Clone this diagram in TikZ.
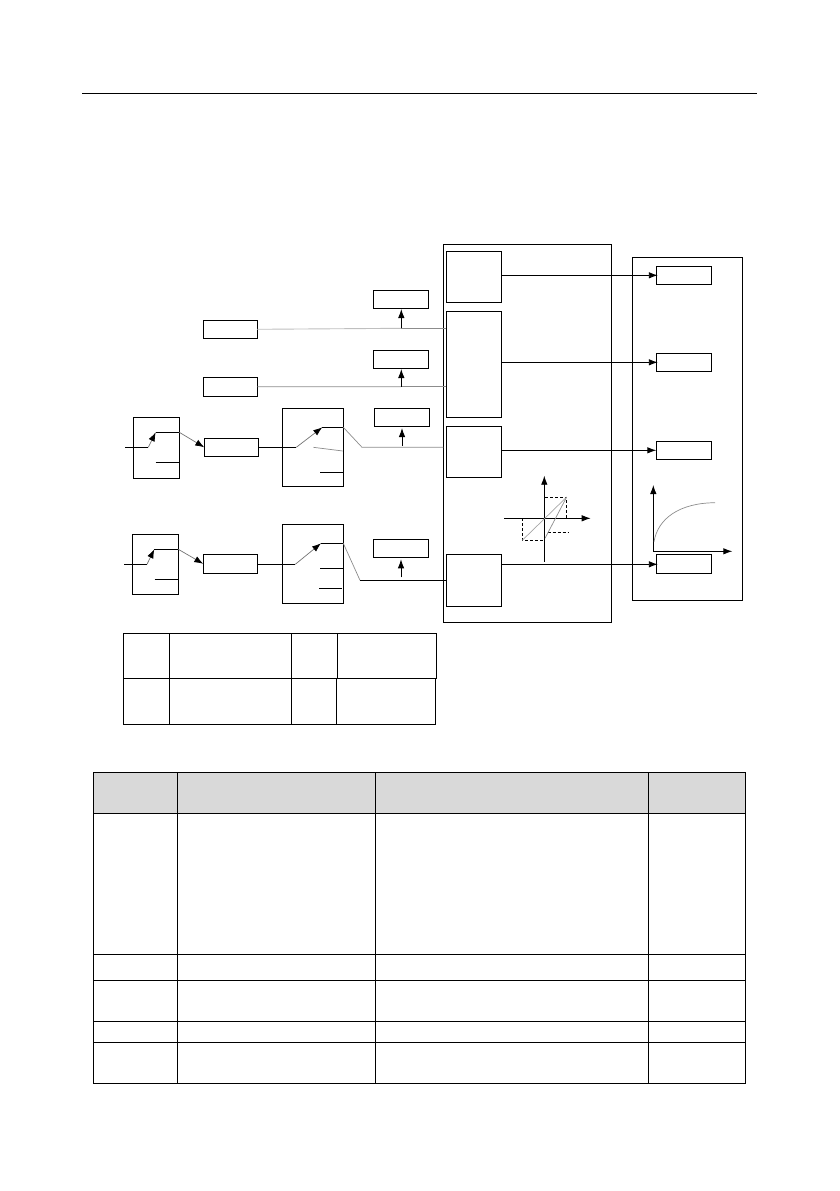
\documentclass[tikz,border=0pt]{standalone}
\usetikzlibrary{arrows.meta}

\begin{document}
\begin{tikzpicture}[
  x=1pt, y=-1pt,
  box/.style={
    draw=black,
    line width=0.9pt,
    inner sep=0pt,
    outer sep=0pt,
    anchor=north west
  },
  tag/.style={box, minimum width=55pt, minimum height=18pt},
  inputtag/.style={tag, minimum width=54pt},
  block/.style={box, minimum width=55pt},
  chooser/.style={box, minimum width=46pt, minimum height=60pt},
  switch/.style={box, minimum width=61pt, minimum height=78pt},
  cell/.style={box},
  headcell/.style={cell, fill=black!15},
  wire/.style={line width=0.9pt, draw=black},
  faint/.style={line width=0.7pt, draw=black!45},
  pale/.style={line width=0.9pt, draw=black!25},
  hatch/.style={line width=0.7pt, draw=black, densely dashed},
  arrow/.style={-{Latex[length=9pt,width=6.5pt]}, line width=0.9pt, draw=black},
  grayarrow/.style={-{Latex[length=9pt,width=6.5pt,black]}, line width=0.7pt, draw=black!55}
]
\useasboundingbox (0,0) rectangle (839,1191);

\coordinate (ruleleft) at (82,93.5);
\coordinate (ruleright) at (757,93.5);
\draw[wire, line width=1.1pt] (ruleleft) -- (ruleright);

% left column
\node[inputtag] (src1) at (203.3,320.3) {};
\node[inputtag, minimum height=19pt] (src2) at (203.3,377.3) {};
\node[chooser, minimum height=61pt] (sel1) at (133.3,417.3) {};
\node[chooser] (sel2) at (132.3,534.3) {};
\node[inputtag] (ref1) at (204.3,438.3) {};
\node[inputtag, minimum height=19pt] (ref2) at (203.3,554.3) {};
\node[switch] (sw1) at (282.3,408.3) {};
\node[switch, minimum height=79pt] (sw2) at (282.3,524.3) {};

% monitor boxes
\node[tag] (mon1) at (373.3,290.3) {};
\node[tag] (mon2) at (373.3,350.3) {};
\node[tag] (mon3) at (374.3,408.3) {};
\node[tag] (mon4) at (373.3,539.3) {};

% regulators
\node[box, minimum width=168.4pt, minimum height=378pt] (regpanel) at (443.3,244.3) {};
\node[block, minimum height=51pt] (rega) at (446.3,251.3) {};
\node[block, minimum height=106pt] (regb) at (446.3,311.3) {};
\node[block, minimum height=51pt] (regc) at (446.3,426.3) {};
\node[block, minimum height=52pt] (regd) at (446.3,554.3) {};

% outputs
\node[box, minimum width=110pt, minimum height=343pt] (outpanel) at (632.3,257.3) {};
\node[tag] (out1) at (656.3,266.3) {};
\node[tag] (out2) at (656.3,353.3) {};
\node[tag] (out3) at (656.3,441.3) {};
\node[tag, minimum height=19pt] (out4) at (656.3,554.3) {};

\coordinate (rowa) at (0,275.3);
\coordinate (rowb) at (0,362.3);
\coordinate (rowc) at (0,450.3);
\coordinate (rowd) at (0,564.3);
\draw[arrow, shorten >=-1.5pt] (rega.east |- rowa) -- (out1.west |- rowa);
\draw[arrow, shorten >=-1.5pt] (regb.east |- rowb) -- (out2.west |- rowb);
\draw[arrow] (regc.east |- rowc) -- (out3.west |- rowc);
\draw[arrow, shorten >=-1.5pt] (regd.east |- rowd) -- (out4.west |- rowd);

% first chooser
\coordinate (in1) at (125,447.3);
\coordinate (pivot1) at (148.3,447.3);
\coordinate (hit1) at (155.7,432.3);
\coordinate (low1) at (155.7,462.3);
\draw[wire] (in1) -- (pivot1);
\draw[grayarrow] (pivot1) -- (hit1);
\draw[wire] (hit1) -- (sel1.east |- hit1);
\draw[wire] (low1) -- (sel1.east |- low1);
\draw[grayarrow] (sel1.east |- hit1) -- (ref1.west);

% second chooser
\coordinate (in2) at (124,564.3);
\coordinate (pivot2) at (147,564.3);
\coordinate (hit2) at (154.3,549.3);
\coordinate (low2) at (154.7,579.3);
\draw[wire] (in2) -- (pivot2);
\draw[grayarrow] (pivot2) -- (hit2);
\draw[wire] (hit2) -- (sel2.east |- hit2);
\draw[wire] (low2) -- (sel2.east |- low2);
\draw[grayarrow] (sel2.east |- hit2) -- (ref2.west);

% first switch
\coordinate (pivot3) at (296.3,447.3);
\coordinate (hit3) at (322.3,427.3);
\coordinate (midl3) at (313.3,447.3);
\coordinate (midr3) at (342.7,451);
\coordinate (low3) at (320,472.3);
\coordinate (bend3) at (362,447.3);
\draw[wire] (ref1.east) -- (pivot3);
\draw[grayarrow] (pivot3) -- (hit3);
\draw[wire] (hit3) -- (sw1.east |- hit3);
\draw[faint] (midl3) -- (midr3);
\draw[wire] (low3) -- (sw1.east |- low3);
\draw[faint] (sw1.east |- hit3) -- (bend3) -- (bend3 -| regpanel.west);

% second switch
\coordinate (pivot4) at (295.3,564.3);
\coordinate (hit4) at (321,543.3);
\coordinate (low4) at (320,568.3);
\coordinate (low5) at (319,588.3);
\coordinate (low5end) at (342,588.3);
\coordinate (bend4) at (360,580.3);
\draw[wire] (ref2.east |- pivot4) -- (pivot4);
\draw[grayarrow] (pivot4) -- (hit4);
\draw[wire] (hit4) -- (sw2.east |- hit4);
\draw[wire] (low4) -- (sw2.east |- low4);
\draw[wire] (low5) -- (low5end);
\draw[faint] (sw2.east |- hit4) -- (bend4);
\draw[wire] (bend4) -- (bend4 -| regd.west);

% lines to the regulators
\coordinate (tap1) at (401.3,328.3);
\coordinate (tap2) at (401.3,386.7);
\coordinate (tap3) at (402,446);
\coordinate (tap4) at (401,577.3);
\draw[pale] (src1.east) -- (tap1);
\draw[faint] (tap1) -- (tap1 -| regb.west);
\draw[faint] (src2.east) -- (tap2);
\draw[faint] (tap2) -- (tap2 -| regb.west);
\draw[arrow, shorten >=0.7pt] (tap1) -- (mon1.south -| tap1);
\draw[arrow, shorten >=0.7pt] (tap2) -- (mon2.south -| tap2);
\draw[arrow, shorten >=1.7pt] (tap3) -- (mon3.south -| tap3);
\draw[arrow, shorten >=2pt] (tap4) -- (mon4.south -| tap4);

% hysteresis plot
\coordinate (hysb) at (544.3,561.7);
\coordinate (hyst) at (544.3,475.7);
\coordinate (hysl) at (504,518.3);
\coordinate (hysr) at (590.7,518.3);
\coordinate (hysa) at (522.3,540.3);
\coordinate (hysc) at (566.7,497);
\coordinate (hyse) at (545,538.3);
\draw[arrow] (hysb) -- (hyst);
\draw[arrow] (hysl) -- (hysr);
\draw[hatch] (hysa |- hysl) -- (hysa) -- (543.3,540.3);
\draw[hatch] (545,497) -- (hysc) -- (hysc |- hysl);
\draw[hatch] (547.7,532.3) -- (568,532.3);
\draw[faint, draw=black!35] (hysa) -- (hysc);
\draw[faint] (hyse) -- (hysc);

% curve plot
\coordinate (curveo) at (653.3,551.3);
\coordinate (curvet) at (653.3,485);
\coordinate (curver) at (732.3,551.3);
\coordinate (curvea) at (654,541.7);
\coordinate (curvez) at (715,502.7);
\draw[arrow] (curveo) -- (curvet);
\draw[arrow] (curveo) -- (curver);
\draw[faint] (curvea) .. controls (658,518) and (680,503) .. (curvez);

% small table
\node[cell, minimum width=46pt, minimum height=44.6pt] (key11) at (123.3,633.7) {};
\node[cell, minimum width=122.1pt, minimum height=44.6pt] (key12) at (169.3,633.7) {};
\node[cell, minimum width=46pt, minimum height=44.6pt] (key13) at (291.4,633.7) {};
\node[cell, minimum width=98.8pt, minimum height=44.6pt] (key14) at (337.4,633.7) {};
\node[cell, minimum width=46pt, minimum height=46pt] (key21) at (123.3,678.3) {};
\node[cell, minimum width=122.1pt, minimum height=46pt] (key22) at (169.3,678.3) {};
\node[cell, minimum width=44.6pt, minimum height=46pt] (key23) at (291.4,678.3) {};
\node[cell, minimum width=99.3pt, minimum height=46pt] (key24) at (336,678.3) {};

% parameter table
\node[headcell, minimum width=84.1pt, minimum height=40.6pt] (par11) at (93.4,772.7) {};
\node[headcell, minimum width=197.5pt, minimum height=40.6pt] (par12) at (177.5,772.7) {};
\node[headcell, minimum width=273.5pt, minimum height=40.6pt] (par13) at (375,772.7) {};
\node[headcell, minimum width=96.5pt, minimum height=40.6pt] (par14) at (648.5,772.7) {};
\node[cell, minimum width=84.1pt, minimum height=141pt] (par21) at (93.4,813.3) {};
\node[cell, minimum width=197.5pt, minimum height=141pt] (par22) at (177.5,813.3) {};
\node[cell, minimum width=273.5pt, minimum height=141pt] (par23) at (375,813.3) {};
\node[cell, minimum width=96.5pt, minimum height=141pt] (par24) at (648.5,813.3) {};
\node[cell, minimum width=84.1pt, minimum height=26pt] (par31) at (93.4,954.3) {};
\node[cell, minimum width=197.5pt, minimum height=26pt] (par32) at (177.5,954.3) {};
\node[cell, minimum width=273.5pt, minimum height=26pt] (par33) at (375,954.3) {};
\node[cell, minimum width=96.5pt, minimum height=26pt] (par34) at (648.5,954.3) {};
\node[cell, minimum width=84.1pt, minimum height=41pt] (par41) at (93.4,980.3) {};
\node[cell, minimum width=197.5pt, minimum height=41pt] (par42) at (177.5,980.3) {};
\node[cell, minimum width=273.5pt, minimum height=41pt] (par43) at (375,980.3) {};
\node[cell, minimum width=96.5pt, minimum height=41pt] (par44) at (648.5,980.3) {};
\node[cell, minimum width=84.1pt, minimum height=21pt] (par51) at (93.4,1021.3) {};
\node[cell, minimum width=197.5pt, minimum height=21pt] (par52) at (177.5,1021.3) {};
\node[cell, minimum width=273.5pt, minimum height=21pt] (par53) at (375,1021.3) {};
\node[cell, minimum width=96.5pt, minimum height=21pt] (par54) at (648.5,1021.3) {};
\node[cell, minimum width=84.1pt, minimum height=41pt] (par61) at (93.4,1042.3) {};
\node[cell, minimum width=197.5pt, minimum height=41pt] (par62) at (177.5,1042.3) {};
\node[cell, minimum width=273.5pt, minimum height=41pt] (par63) at (375,1042.3) {};
\node[cell, minimum width=96.5pt, minimum height=41pt] (par64) at (648.5,1042.3) {};

\end{tikzpicture}
\end{document}
